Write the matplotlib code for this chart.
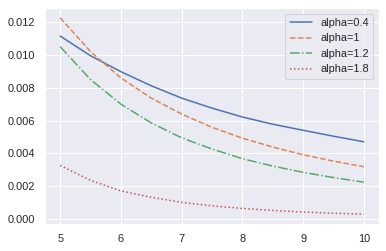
import matplotlib
matplotlib.use("Agg")
import matplotlib.pyplot as plt
import seaborn as sns

# values
x_vals = [5.0, 5.5, 6.0, 6.5, 7.0, 7.5, 8.0, 8.5, 9.0, 9.5, 10.0]
y_a04 = [0.01115, 0.00995, 0.00898, 0.00812, 0.00737, 0.00676, 0.00622, 0.00578, 0.00541, 0.00505, 0.00471]
y_a1 = [0.01226, 0.01020, 0.00860, 0.00737, 0.00640, 0.00559, 0.00493, 0.00439, 0.00392, 0.00353, 0.00319]
y_a12 = [0.01050, 0.00850, 0.00700, 0.00586, 0.00495, 0.00427, 0.00368, 0.00323, 0.00285, 0.00253, 0.00225]
y_a18 = [0.00327, 0.00236, 0.00172, 0.00133, 0.00102, 0.00081, 0.00065, 0.00053, 0.00043, 0.00036, 0.00030]
labels = ["alpha=0.4", "alpha=1", "alpha=1.2", "alpha=1.8"]

sns.set_theme(style="darkgrid")
plt.rcParams['font.family'] = ['Liberation Sans', 'DejaVu Sans']

fig = plt.figure(figsize=(386 / 72, 251 / 72), dpi=72)
ax = fig.add_axes([45 / 386, 27 / 251, 334 / 386, 216 / 251])

styles = ['-', '--', '-.', ':']
for ys, lab, ls in zip([y_a04, y_a1, y_a12, y_a18], labels, styles):
    ax.plot(x_vals, ys, linestyle=ls, label=lab)

ax.legend(loc='upper right')

fig.savefig("out.png", dpi=72)
